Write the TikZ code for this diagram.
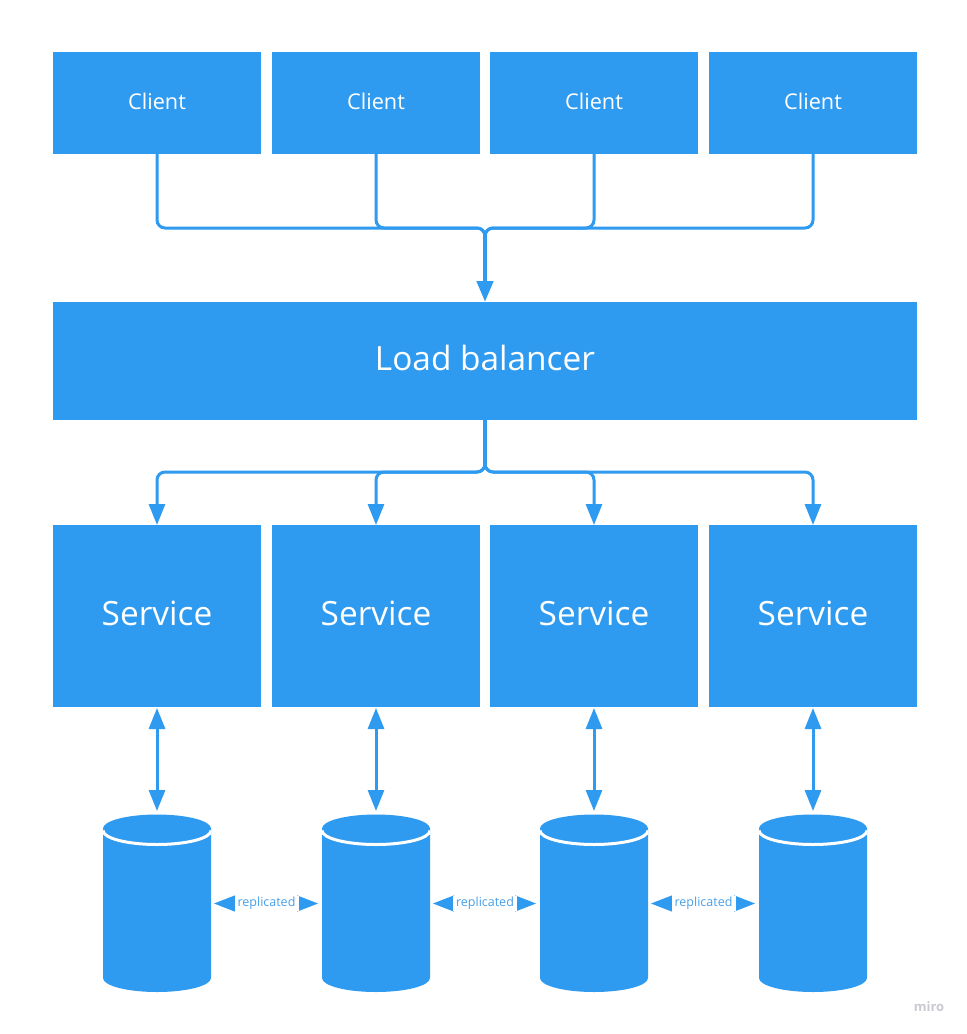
\documentclass[tikz,border=0pt]{standalone}
\usepackage{fontspec}
\setmainfont{Open Sans}
\usepackage{tikz}
\usetikzlibrary{positioning,arrows.meta,calc}
\usepackage{xcolor}
\definecolor{boxblue}{RGB}{46,154,240}
\definecolor{labelblue}{RGB}{70,160,235}
\definecolor{logogray}{RGB}{200,202,208}

\tikzset{
  blockbox/.style={fill=boxblue,text=white,inner sep=0pt,outer sep=0pt,minimum width=208pt},
  clientbox/.style={blockbox,minimum height=102pt,text depth=4pt,font=\fontsize{21.7}{25}\selectfont},
  lbbox/.style={blockbox,minimum width=864pt,minimum height=118pt,text depth=6pt,font=\fontsize{33.4}{38}\selectfont},
  servicebox/.style={blockbox,minimum height=182pt,text depth=6pt,font=\fontsize{33.4}{38}\selectfont},
  dbshape/.style={inner sep=0pt,outer sep=0pt,minimum width=108pt,minimum height=178pt,
    path picture={
      \fill[boxblue] ($(path picture bounding box.center)+(-54,-75)$) arc[start angle=180,end angle=0,x radius=54pt,y radius=14pt]
        -- ++(0,149.5) arc[start angle=360,end angle=180,x radius=54pt,y radius=14pt] -- cycle;
      \draw[white,line width=3pt] ($(path picture bounding box.center)+(-54,-73)$) arc[start angle=180,end angle=360,x radius=54pt,y radius=14pt];
    }},
  wire/.style={draw=boxblue,line width=3pt,rounded corners=8pt},
  trunk/.style={wire,line width=4.5pt,-{Triangle[length=21pt,width=16pt]}},
  feedarrow/.style={wire,-{Triangle[length=21pt,width=16pt]}},
  syncarrow/.style={draw=boxblue,line width=3pt,{Triangle[length=21pt,width=16pt]}-{Triangle[length=21pt,width=16pt]},shorten <=1pt,shorten >=3.5pt},
  repllink/.style={draw=boxblue,line width=1pt,{Triangle[length=21pt,width=16pt]}-{Triangle[length=21pt,width=16pt]},shorten <=3pt,shorten >=4pt},
  repllabel/.style={fill=white,text=labelblue,inner sep=1.5pt,minimum width=64pt,font=\fontsize{12.5}{15}\selectfont},
}

\begin{document}
\begin{tikzpicture}[x=1pt,y=-1pt]
\useasboundingbox (0,0) rectangle (967,1034);

% Clients
\node[clientbox] (client1) at (157,103) {Client};
\node[clientbox] (client2) at (376,103) {Client};
\node[clientbox] (client3) at (594,103) {Client};
\node[clientbox] (client4) at (813,103) {Client};

% Load balancer
\node[lbbox] (lb) at (485,361) {Load balancer};
\coordinate (joinup) at (485,228);
\coordinate (joindown) at (485,472);

% Services
\node[servicebox] (service1) at (157,616) {Service};
\node[servicebox] (service2) at (376,616) {Service};
\node[servicebox] (service3) at (594,616) {Service};
\node[servicebox] (service4) at (813,616) {Service};

% Databases
\node[dbshape] (db1) at (157,903.5) {};
\node[dbshape] (db2) at (376,903.5) {};
\node[dbshape] (db3) at (594,903.5) {};
\node[dbshape] (db4) at (813,903.5) {};

% Clients to load balancer
\draw[wire] (client1.south) |- (joinup) -- ++(0,12);
\draw[wire] (client2.south) |- (joinup) -- ++(0,12);
\draw[wire] (client3.south) |- (joinup) -- ++(0,12);
\draw[wire] (client4.south) |- (joinup) -- ++(0,12);
\draw[trunk] (joinup) ++(0,3) -- (lb.north);

% Load balancer to services
\draw[wire,line width=4.5pt] (lb.south) -- ($(joindown)+(0,-3)$);
\draw[feedarrow] (joindown) ++(0,-12) -- (joindown) -| (service1.north);
\draw[feedarrow] (joindown) ++(0,-12) -- (joindown) -| (service2.north);
\draw[feedarrow] (joindown) ++(0,-12) -- (joindown) -| (service3.north);
\draw[feedarrow] (joindown) ++(0,-12) -- (joindown) -| (service4.north);

% Services to databases
\draw[syncarrow] (service1.south) -- (db1.north);
\draw[syncarrow] (service2.south) -- (db2.north);
\draw[syncarrow] (service3.south) -- (db3.north);
\draw[syncarrow] (service4.south) -- (db4.north);

% Replication
\draw[repllink] (db1.east) -- node[repllabel] (repl1) {replicated} (db2.west);
\draw[repllink] (db2.east) -- node[repllabel] (repl2) {replicated} (db3.west);
\draw[repllink] (db3.east) -- node[repllabel] (repl3) {replicated} (db4.west);

% Logo
\node[text=logogray,font=\fontsize{13}{15}\selectfont\bfseries,inner sep=0pt] (logo) at (929,1007) {miro};
\end{tikzpicture}
\end{document}
